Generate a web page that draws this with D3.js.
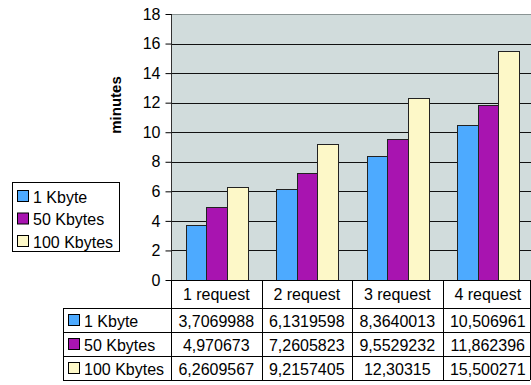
<!DOCTYPE html>
<html><head><meta charset="utf-8">
<script src="https://cdn.jsdelivr.net/npm/d3@7"></script>
<style>body{margin:0;background:#fff;} text{font-family:"Liberation Sans",Arial,sans-serif;}</style>
</head><body>
<svg id="c" width="531" height="385"></svg>
<script>
const categories = ["1 request","2 request","3 request","4 request"];
const seriesNames = ["1 Kbyte","50 Kbytes","100 Kbytes"];
const s1Kbyte = [3.7069988, 6.1319598, 8.3640013, 10.506961];
const s50Kbytes = [4.970673, 7.2605823, 9.5529232, 11.862396];
const s100Kbytes = [6.2609567, 9.2157405, 12.30315, 15.500271];
const labels1 = ["3,7069988","6,1319598","8,3640013","10,506961"];
const labels50 = ["4,970673","7,2605823","9,5529232","11,862396"];
const labels100 = ["6,2609567","9,2157405","12,30315","15,500271"];
const yTicks = [0,2,4,6,8,10,12,14,16,18];
const colors = ["#4DAAFF","#A814B0","#FDF8C8"];

const series = [s1Kbyte, s50Kbytes, s100Kbytes];
const tableLabels = [labels1, labels50, labels100];

const svg = d3.select("#c");
const L = 171, R = 533, T = 14, B = 280;
const x = d3.scaleBand().domain(categories).range([L, 533]).paddingInner(0).paddingOuter(0);
const bw = 20.5;
const y = d3.scaleLinear().domain([0,18]).range([B, T]);

svg.append("rect").attr("x",L).attr("y",T).attr("width",R-L).attr("height",B-T).attr("fill","#D1DCDC");
svg.append("g").selectAll("line").data(yTicks.filter(d=>d>0)).join("line")
  .attr("x1",L).attr("x2",R).attr("y1",d=>Math.round(y(d))+0.5).attr("y2",d=>Math.round(y(d))+0.5)
  .attr("stroke",d=>d===18?"#8a9494":"#111").attr("stroke-width",1);

const g = svg.append("g");
categories.forEach((c,i)=>{
  series.forEach((s,j)=>{
    const x0 = x(c) + (x.bandwidth() - 3*bw)/2 + j*bw;
    g.append("rect").attr("x",Math.round(x0)+0.5).attr("y",Math.round(y(s[i]))+0.5)
      .attr("width",Math.round(bw)).attr("height",Math.round(y(0))-Math.round(y(s[i])))
      .attr("fill",colors[j]).attr("stroke","#222").attr("stroke-width",1);
  });
});

const ya = svg.append("g").attr("transform",`translate(${L+0.5},0)`)
  .call(d3.axisLeft(y).tickValues(yTicks).tickSize(6).tickPadding(5));
ya.select(".domain").attr("stroke","#333").attr("d",`M0,${T}V${B+100}`);
ya.selectAll(".tick line").attr("stroke","#000");
ya.selectAll(".tick text").attr("font-size",16).attr("fill","#000").attr("font-family","Liberation Sans, Arial, sans-serif");

svg.append("text").attr("transform","translate(121,105) rotate(-90)").attr("text-anchor","middle")
  .attr("font-size",15).attr("font-weight","bold").text("minutes");

const lg = svg.append("g");
lg.append("rect").attr("x",12.5).attr("y",182.5).attr("width",107).attr("height",69).attr("fill","#fff").attr("stroke","#000");
seriesNames.forEach((n,j)=>{
  const yy = 196 + j*22.5;
  lg.append("rect").attr("x",17.5).attr("y",yy-5.5).attr("width",11).attr("height",11).attr("fill",colors[j]).attr("stroke","#000");
  lg.append("text").attr("x",33).attr("y",yy+6.5).attr("font-size",16).text(n);
});

const tL = 63, tR = 530;
const rows = [280, 308, 332, 356, 380];
const tg = svg.append("g");
categories.forEach(c=>{
  tg.append("text").attr("x",x(c)+x.bandwidth()/2).attr("y",300).attr("text-anchor","middle").attr("font-size",16).text(c);
});
seriesNames.forEach((n,j)=>{
  const cy = (rows[j+1]+rows[j+2])/2;
  tg.append("rect").attr("x",68.5).attr("y",Math.round(cy)-5.5).attr("width",11).attr("height",11).attr("fill",colors[j]).attr("stroke","#000");
  tg.append("text").attr("x",84).attr("y",cy+6.5).attr("font-size",16).text(n);
  categories.forEach((c,i)=>{
    tg.append("text").attr("x",x(c)+x.bandwidth()/2).attr("y",cy+6.5).attr("text-anchor","middle").attr("font-size",16).text(tableLabels[j][i]);
  });
});
const ln = (x1,y1,x2,y2)=>tg.append("line").attr("x1",x1).attr("y1",y1).attr("x2",x2).attr("y2",y2).attr("stroke","#000").attr("stroke-width",1);
ln(L, rows[0]+0.5, tR, rows[0]+0.5);
for(let k=1;k<rows.length;k++) ln(tL, rows[k]+0.5, tR, rows[k]+0.5);
ln(tL+0.5, rows[1], tL+0.5, rows[4]);
categories.forEach(c=>ln(Math.round(x(c))+0.5, rows[0], Math.round(x(c))+0.5, rows[4]));
ln(tR+0.5, rows[0], tR+0.5, rows[4]);
</script>
</body></html>
